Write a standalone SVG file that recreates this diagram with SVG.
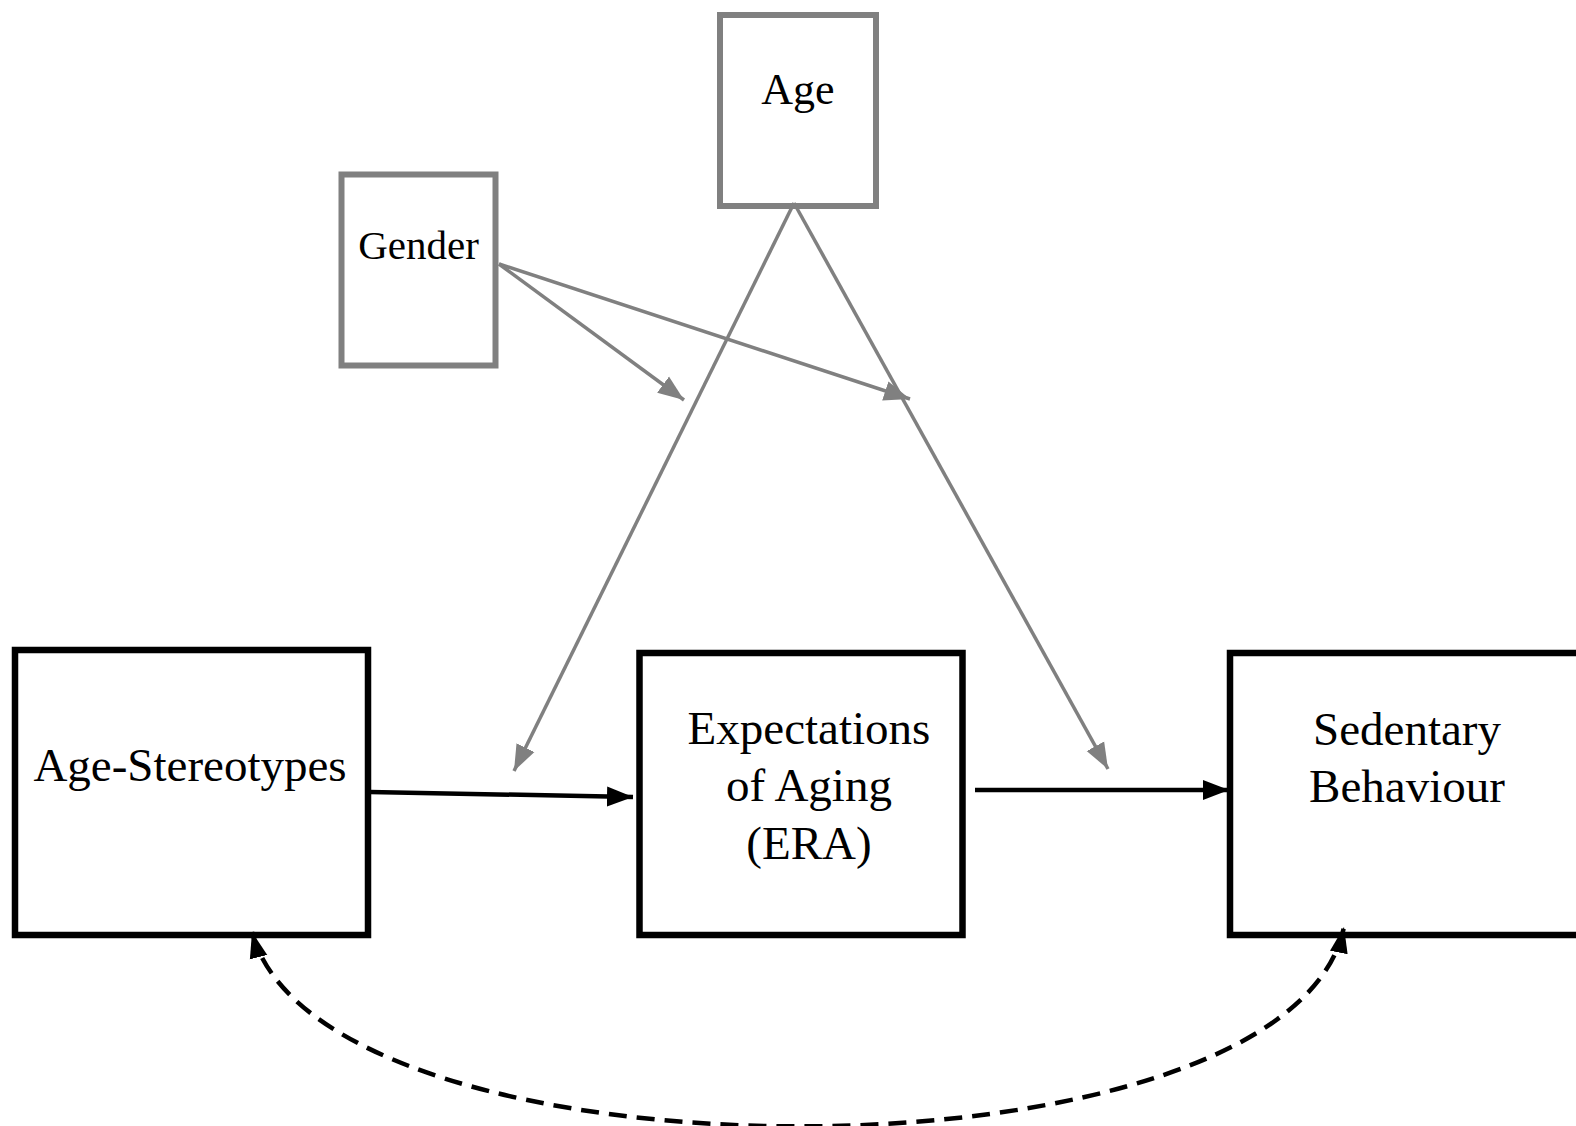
<svg xmlns="http://www.w3.org/2000/svg" width="1576" height="1126" viewBox="0 0 1576 1126">
<style>
.bg{fill:#ffffff}
.gbox{fill:#ffffff;stroke:#808080;stroke-width:6}
.kbox{fill:#ffffff;stroke:#000000;stroke-width:6.5}
.t{font-family:"Liberation Serif","Times New Roman",serif;fill:#000000;text-anchor:middle}
.gl{stroke:#808080;stroke-width:3.5;fill:none}
.kl{stroke:#000000;stroke-width:4.5;fill:none}
.dl{stroke:#000000;stroke-width:4.5;fill:none;stroke-dasharray:18 10}
</style>
<defs>
<marker id="ga" markerUnits="userSpaceOnUse" markerWidth="28" markerHeight="22" refX="26" refY="11" orient="auto">
<path d="M0,1 L26,11 L0,21 z" fill="#808080"/>
</marker>
<marker id="ka" markerUnits="userSpaceOnUse" markerWidth="28" markerHeight="22" refX="26" refY="11" orient="auto">
<path d="M0,1 L26,11 L0,21 z" fill="#000000"/>
</marker>
<marker id="kd" markerUnits="userSpaceOnUse" markerWidth="28" markerHeight="22" refX="26" refY="11" orient="auto-start-reverse">
<path d="M0,2 L26,11 L0,20 z" fill="#000000"/>
</marker>
</defs>
<rect class="bg" x="0" y="0" width="1576" height="1126"/>

<g id="node-age">
<rect class="gbox" x="720" y="15" width="156" height="191"/>
<text class="t" x="798" y="104" font-size="44">Age</text>
</g>
<g id="node-gender">
<rect class="gbox" x="341.5" y="174.5" width="154" height="191"/>
<text class="t" x="418.5" y="259" font-size="41">Gender</text>
</g>
<g id="node-age-stereotypes">
<rect class="kbox" x="15" y="650" width="353" height="285"/>
<text class="t" x="190" y="781" font-size="47">Age-Stereotypes</text>
</g>
<g id="node-era">
<rect class="kbox" x="639.5" y="653" width="323" height="282"/>
<text class="t" x="809" y="744" font-size="47">Expectations</text>
<text class="t" x="809" y="801" font-size="47">of Aging</text>
<text class="t" x="809" y="859" font-size="47">(ERA)</text>
</g>
<g id="node-sedentary">
<rect class="kbox" x="1230" y="653" width="400" height="282"/>
<text class="t" x="1407" y="745" font-size="47">Sedentary</text>
<text class="t" x="1407" y="802" font-size="47">Behaviour</text>
</g>

<g id="connectors">
<line class="gl" x1="794" y1="203" x2="514" y2="771" marker-end="url(#ga)"/>
<line class="gl" x1="794" y1="203" x2="1108" y2="769" marker-end="url(#ga)"/>
<line class="gl" x1="499" y1="264" x2="684" y2="400" marker-end="url(#ga)"/>
<line class="gl" x1="499" y1="264" x2="910" y2="399" marker-end="url(#ga)"/>
<line class="kl" x1="370" y1="792" x2="633" y2="797" marker-end="url(#ka)"/>
<line class="kl" x1="975" y1="790" x2="1229" y2="790" marker-end="url(#ka)"/>
<path class="dl" d="M252,932 C320,1192 1290,1192 1344,927" marker-start="url(#kd)" marker-end="url(#kd)"/>
</g>
</svg>
